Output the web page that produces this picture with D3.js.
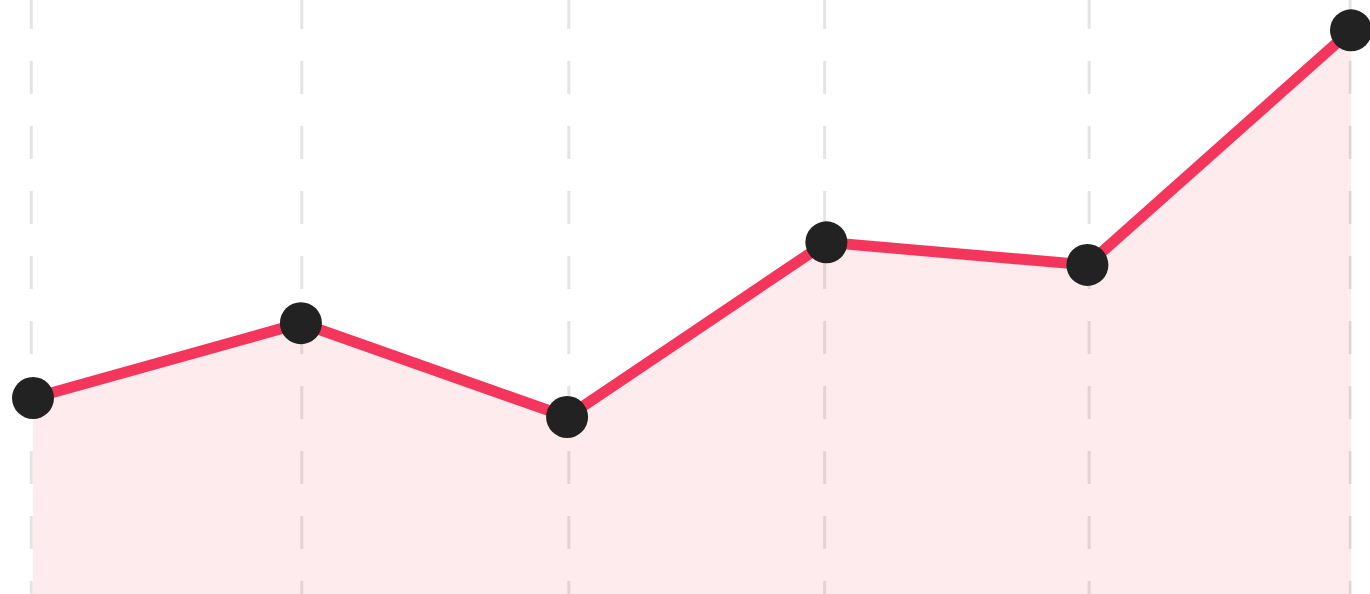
<!DOCTYPE html>
<html lang="en">
<head>
  <meta charset="UTF-8">
  <title>Line chart</title>
  <script src="https://d3js.org/d3.v7.min.js"></script>
  <style>
    body { margin: 0; overflow: hidden; background: #fff; }
    .grid line { stroke: #e4e4e4; stroke-width: 3; stroke-dasharray: 33 32; }
    .area { fill: #f5365c; fill-opacity: 0.1; }
    .line { fill: none; stroke: #f5365c; stroke-width: 11; }
    .dot { fill: #222; }
  </style>
</head>
<body>
  <div id="chart"></div>
  <script>
    // data (x = day offset, y = value)
    const days = [0, 31.1, 62, 92.1, 122.4, 153];
    const values = [33.0, 45.6, 29.8, 59.2, 55.4, 94.9];
    const gridDays = [-0.2, 31.2, 62.2, 91.9, 122.6, 152.9];

    const width = 1370;
    const height = 594;

    const x = d3.scaleLinear().domain([0, 153]).range([33, 1351]);
    const y = d3.scaleLinear().domain([0, 100]).range([height, 0]);

    const data = days.map((d, i) => ({ x: d, y: values[i] }));

    const svg = d3.select("#chart")
      .append("svg")
      .attr("width", width)
      .attr("height", height);

    // dashed vertical gridlines
    svg.append("g")
      .attr("class", "grid")
      .selectAll("line")
      .data(gridDays)
      .enter()
      .append("line")
      .attr("x1", d => x(d))
      .attr("x2", d => x(d))
      .attr("y1", -4)
      .attr("y2", height);

    const area = d3.area()
      .x(d => x(d.x))
      .y0(y(0))
      .y1(d => y(d.y));

    const line = d3.line()
      .x(d => x(d.x))
      .y(d => y(d.y));

    svg.append("path")
      .datum(data)
      .attr("class", "area")
      .attr("d", area);

    svg.append("path")
      .datum(data)
      .attr("class", "line")
      .attr("d", line);

    svg.selectAll(".dot")
      .data(data)
      .enter()
      .append("circle")
      .attr("class", "dot")
      .attr("cx", d => x(d.x))
      .attr("cy", d => y(d.y))
      .attr("r", 21);
  </script>
</body>
</html>
